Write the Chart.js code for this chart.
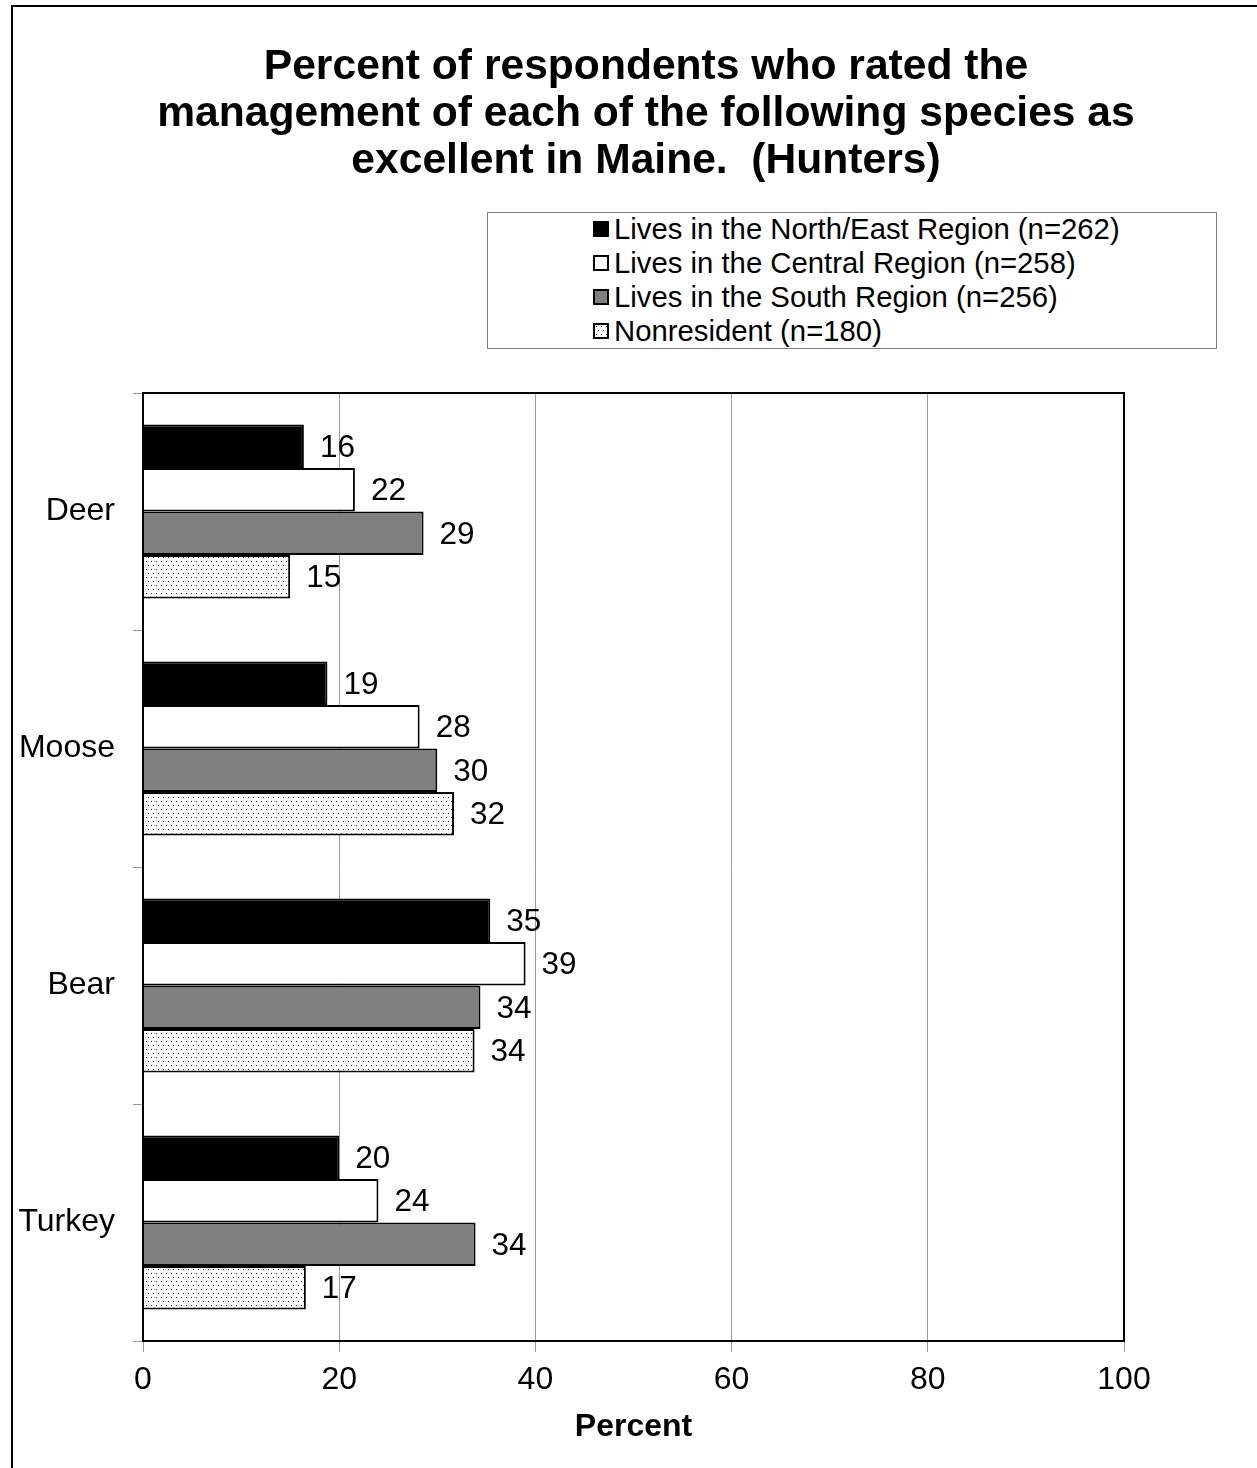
<!DOCTYPE html>
<html>
<head>
<meta charset="utf-8">
<script src="https://cdn.jsdelivr.net/npm/chart.js@4.4.1/dist/chart.umd.min.js"></script>
<style>
  html, body { margin: 0; padding: 0; background: #fff; overflow: hidden; }
  body { width: 1257px; height: 1468px; position: relative; font-family: 'Liberation Sans', Arial, sans-serif; }
  #frame { position: absolute; left: 11px; top: 5px; width: 2000px; height: 2000px;
           border-left: 2px solid #000; border-top: 2px solid #000; }
  #chart { position: absolute; left: 0; top: 0; }
  #title { position: absolute; left: 0; top: 41px; width: 1292px; text-align: center;
           font-weight: bold; font-size: 42.6px; line-height: 47px; color: #000; z-index: 2; }
  #legend { position: absolute; left: 487px; top: 212px; width: 728px; height: 135px;
            border: 1px solid #808080; z-index: 2; background: #fff; }
  .item { position: absolute; left: 105px; height: 34px; display: flex; align-items: center;
          font-size: 29.3px; white-space: nowrap; color: #000; }
  .swatch { width: 12px; height: 12px; border: 2px solid #000; margin-right: 5px; }
</style>
</head>
<body>
<div id="frame"></div>
<div id="title">Percent of respondents who rated the<br>management of each of the following species as<br>excellent in Maine.&nbsp; (Hunters)</div>
<div id="legend"></div>
<canvas id="chart" width="1257" height="1468"></canvas>
<script>
// ---------- Data ----------
const species = ['Deer', 'Moose', 'Bear', 'Turkey'];
const seriesNames = [
  'Lives in the North/East Region (n=262)',
  'Lives in the Central Region (n=258)',
  'Lives in the South Region (n=256)',
  'Nonresident (n=180)'
];
const northEast = [16.4, 18.8, 35.4, 20.0];
const central = [21.6, 28.2, 39.0, 24.0];
const south = [28.6, 30.0, 34.4, 33.9];
const nonresident = [15.0, 31.7, 33.8, 16.6];
const xTicks = [0, 20, 40, 60, 80, 100];

const FONT = "'Liberation Sans', Arial, sans-serif";
Chart.defaults.font.family = FONT;
Chart.defaults.color = '#000';

// dotted fill for the nonresident bars
function makeDots() {
  const c = document.createElement('canvas');
  c.width = 5; c.height = 8;
  const g = c.getContext('2d');
  g.fillStyle = '#fff';
  g.fillRect(0, 0, 5, 8);
  g.fillStyle = '#333';
  g.fillRect(1, 1, 1, 1);
  g.fillRect(3, 5, 1, 1);
  return c;
}
const dotCanvas = makeDots();
const ctx = document.getElementById('chart').getContext('2d');
const dotPattern = ctx.createPattern(dotCanvas, 'repeat');

const fills = ['#000000', '#ffffff', '#808080', dotPattern];
const seriesData = [northEast, central, south, nonresident];

// ---------- HTML legend ----------
const legendEl = document.getElementById('legend');
seriesNames.forEach((name, i) => {
  const row = document.createElement('div');
  row.className = 'item';
  row.style.top = (i * 34 - 1) + 'px';
  const sw = document.createElement('span');
  sw.className = 'swatch';
  if (i === 3) {
    sw.style.backgroundImage = `url(${dotCanvas.toDataURL()})`;
  } else {
    sw.style.background = fills[i];
  }
  row.appendChild(sw);
  row.appendChild(document.createTextNode(name));
  legendEl.appendChild(row);
});

// ---------- Plugins ----------
const areaBorder = {
  id: 'areaBorder',
  afterDatasetsDraw(chart) {
    const { ctx, chartArea: a } = chart;
    ctx.save();
    ctx.strokeStyle = '#000';
    ctx.lineWidth = 2;
    ctx.strokeRect(a.left, a.top, a.right - a.left, a.bottom - a.top);
    ctx.restore();
  }
};

const valueLabels = {
  id: 'valueLabels',
  afterDatasetsDraw(chart) {
    const { ctx } = chart;
    ctx.save();
    ctx.font = `31.5px ${FONT}`;
    ctx.fillStyle = '#000';
    ctx.textAlign = 'left';
    ctx.textBaseline = 'middle';
    chart.data.datasets.forEach((ds, di) => {
      chart.getDatasetMeta(di).data.forEach((bar, i) => {
        ctx.fillText(Math.round(ds.data[i]), bar.x + 16, bar.y + 2);
      });
    });
    ctx.restore();
  }
};

// ---------- Chart ----------
new Chart(ctx, {
  type: 'bar',
  data: {
    labels: species,
    datasets: seriesData.map((d, i) => ({
      label: seriesNames[i],
      data: d,
      backgroundColor: fills[i],
      borderColor: '#000',
      borderWidth: 2,
      borderSkipped: 'start',
      barPercentage: 1,
      categoryPercentage: 0.734
    }))
  },
  options: {
    indexAxis: 'y',
    responsive: false,
    animation: false,
    layout: { padding: { top: 393, right: 133, left: 0, bottom: 0 } },
    plugins: {
      legend: { display: false },
      title: { display: false },
      tooltip: { enabled: false }
    },
    scales: {
      x: {
        min: 0,
        max: 100,
        afterBuildTicks: (s) => { s.ticks = xTicks.map(v => ({ value: v })); },
        ticks: { font: { size: 32 }, padding: 9, color: '#000' },
        grid: { color: '#999', lineWidth: 1, tickLength: 11 },
        border: { color: '#000', width: 2 },
        title: {
          display: true,
          text: 'Percent',
          color: '#000',
          font: { size: 32, weight: 'bold' },
          padding: { top: 0, bottom: 22 }
        },
        afterFit: (s) => { s.height = 127; }
      },
      y: {
        ticks: { font: { size: 32 }, padding: 18, color: '#000' },
        grid: { offset: true, drawOnChartArea: false, tickLength: 10, color: '#999' },
        border: { color: '#000', width: 2 },
        afterFit: (s) => { s.width = 143; }
      }
    }
  },
  plugins: [areaBorder, valueLabels]
});
</script>
</body>
</html>
